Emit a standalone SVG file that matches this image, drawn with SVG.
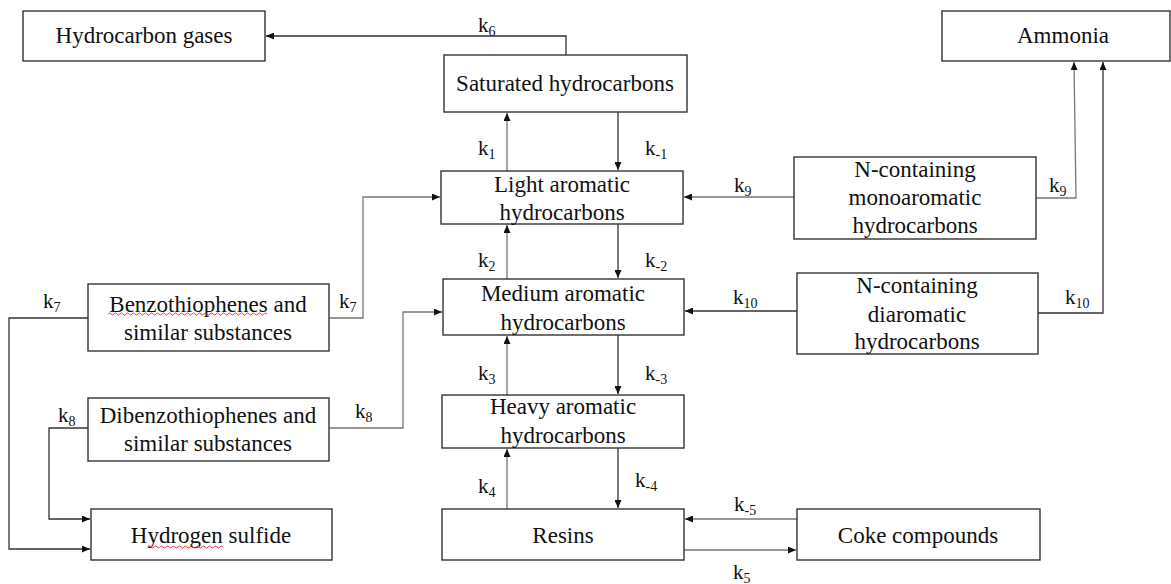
<svg xmlns="http://www.w3.org/2000/svg" width="1171" height="584" viewBox="0 0 1171 584">
<style>
.box{fill:#fff;stroke:#333;stroke-width:1.4}
.t{font-family:"Liberation Serif","Times New Roman",serif;font-size:23px;fill:#111;text-anchor:middle}
.k{font-family:"Liberation Serif","Times New Roman",serif;font-size:21px;fill:#111}
.s{font-size:14px}
.c{fill:none;stroke:#333;stroke-width:1.3}
.g{stroke:#777}
.sq{fill:none;stroke:#e03030;stroke-width:0.9}
</style>
<defs>
<marker id="a" markerWidth="9" markerHeight="7" refX="8" refY="3.5" orient="auto" markerUnits="userSpaceOnUse">
<path d="M0,0 L8,3.5 L0,7 z" fill="#111"/>
</marker>
</defs>
<rect width="1171" height="584" fill="#fff"/>
<g id="connectors">
<path class="c" d="M566,55 V36 H266" marker-end="url(#a)"/>
<path class="c g" d="M507,171 V113" marker-end="url(#a)"/>
<path class="c" d="M618,112 V170" marker-end="url(#a)"/>
<path class="c g" d="M507,279 V225" marker-end="url(#a)"/>
<path class="c" d="M618,224 V278" marker-end="url(#a)"/>
<path class="c g" d="M507,395 V336" marker-end="url(#a)"/>
<path class="c" d="M618,335 V394" marker-end="url(#a)"/>
<path class="c g" d="M507,509 V449" marker-end="url(#a)"/>
<path class="c" d="M618,448 V508" marker-end="url(#a)"/>
<path class="c g" d="M797,519 H685" marker-end="url(#a)"/>
<path class="c g" d="M684,550 H796" marker-end="url(#a)"/>
<path class="c g" d="M794,197 H684" marker-end="url(#a)"/>
<path class="c g" d="M1036,198 H1076 L1074,62" marker-end="url(#a)"/>
<path class="c" d="M797,311 H685" marker-end="url(#a)"/>
<path class="c" d="M1038,313 H1103 V62" marker-end="url(#a)"/>
<path class="c g" d="M329,318 H363 V197 H440" marker-end="url(#a)"/>
<path class="c" d="M88,318 H9 V549 H90" marker-end="url(#a)"/>
<path class="c g" d="M329,428 H403 V312 H442" marker-end="url(#a)"/>
<path class="c" d="M88,428 H49 V519 H90" marker-end="url(#a)"/>
</g>
<g id="labels">
<text class="k" x="478" y="32">k<tspan class="s" dy="4">6</tspan></text>
<text class="k" x="478" y="155">k<tspan class="s" dy="4">1</tspan></text>
<text class="k" x="645" y="155">k<tspan class="s" dy="4">-1</tspan></text>
<text class="k" x="478" y="267">k<tspan class="s" dy="4">2</tspan></text>
<text class="k" x="645" y="267">k<tspan class="s" dy="4">-2</tspan></text>
<text class="k" x="478" y="380">k<tspan class="s" dy="4">3</tspan></text>
<text class="k" x="645" y="380">k<tspan class="s" dy="4">-3</tspan></text>
<text class="k" x="478" y="493">k<tspan class="s" dy="4">4</tspan></text>
<text class="k" x="635" y="487">k<tspan class="s" dy="4">-4</tspan></text>
<text class="k" x="734" y="511">k<tspan class="s" dy="4">-5</tspan></text>
<text class="k" x="733" y="579">k<tspan class="s" dy="4">5</tspan></text>
<text class="k" x="734" y="192">k<tspan class="s" dy="4">9</tspan></text>
<text class="k" x="1049" y="192">k<tspan class="s" dy="4">9</tspan></text>
<text class="k" x="733" y="304">k<tspan class="s" dy="4">10</tspan></text>
<text class="k" x="1065" y="304">k<tspan class="s" dy="4">10</tspan></text>
<text class="k" x="43" y="308">k<tspan class="s" dy="4">7</tspan></text>
<text class="k" x="339" y="308">k<tspan class="s" dy="4">7</tspan></text>
<text class="k" x="58" y="422">k<tspan class="s" dy="4">8</tspan></text>
<text class="k" x="355" y="418">k<tspan class="s" dy="4">8</tspan></text>
</g>
<g id="hydrocarbon-gases"><rect class="box" x="23" y="11" width="242" height="50"/><text class="t" x="144" y="43">Hydrocarbon gases</text></g>
<g id="saturated"><rect class="box" x="444" y="55" width="243" height="57"/><text class="t" x="565" y="91">Saturated hydrocarbons</text></g>
<g id="ammonia"><rect class="box" x="942" y="11" width="228" height="50"/><text class="t" x="1063" y="43">Ammonia</text></g>
<g id="light"><rect class="box" x="441" y="171" width="242" height="53"/><text class="t" x="562" y="192">Light aromatic</text><text class="t" x="562" y="220">hydrocarbons</text></g>
<g id="n-mono"><rect class="box" x="794" y="157" width="242" height="82"/><text class="t" x="915" y="177">N-containing</text><text class="t" x="915" y="205">monoaromatic</text><text class="t" x="915" y="233">hydrocarbons</text></g>
<g id="medium"><rect class="box" x="443" y="279" width="241" height="56"/><text class="t" x="563" y="301">Medium aromatic</text><text class="t" x="563" y="330">hydrocarbons</text></g>
<g id="n-di"><rect class="box" x="797" y="273" width="241" height="81"/><text class="t" x="917" y="293">N-containing</text><text class="t" x="917" y="322">diaromatic</text><text class="t" x="917" y="349">hydrocarbons</text></g>
<g id="benzothiophenes"><rect class="box" x="88" y="284" width="241" height="67"/><text class="t" x="208" y="312">Benzothiophenes and</text><text class="t" x="208" y="340">similar substances</text>
<path class="sq" d="M108,314 q1.5,-2 3,0 t3,0 t3,0 t3,0 t3,0 t3,0 t3,0 t3,0 t3,0 t3,0 t3,0 t3,0 t3,0 t3,0 t3,0 t3,0 t3,0 t3,0 t3,0 t3,0 t3,0 t3,0 t3,0 t3,0 t3,0 t3,0 t3,0 t3,0 t3,0 t3,0 t3,0 t3,0 t3,0 t3,0 t3,0 t3,0 t3,0 t3,0 t3,0 t3,0 t3,0 t3,0 t3,0 t3,0 t3,0 t3,0 t3,0 t3,0 t3,0 t3,0 t3,0 t3,0 t3,0"/></g>
<g id="dibenzothiophenes"><rect class="box" x="88" y="398" width="241" height="63"/><text class="t" x="208" y="423">Dibenzothiophenes and</text><text class="t" x="208" y="451">similar substances</text></g>
<g id="heavy"><rect class="box" x="442" y="395" width="242" height="53"/><text class="t" x="563" y="414">Heavy aromatic</text><text class="t" x="563" y="443">hydrocarbons</text></g>
<g id="hydrogen-sulfide"><rect class="box" x="91" y="509" width="241" height="51"/><text class="t" x="211" y="543">Hydrogen sulfide</text>
<path class="sq" d="M148,547 q1.5,-2 3,0 t3,0 t3,0 t3,0 t3,0 t3,0 t3,0 t3,0 t3,0 t3,0 t3,0 t3,0 t3,0 t3,0 t3,0 t3,0 t3,0 t3,0 t3,0 t3,0 t3,0 t3,0 t3,0 t3,0 t3,0"/></g>
<g id="resins"><rect class="box" x="442" y="509" width="242" height="51"/><text class="t" x="563" y="543">Resins</text></g>
<g id="coke"><rect class="box" x="797" y="509" width="243" height="51"/><text class="t" x="918" y="543">Coke compounds</text></g>
</svg>
